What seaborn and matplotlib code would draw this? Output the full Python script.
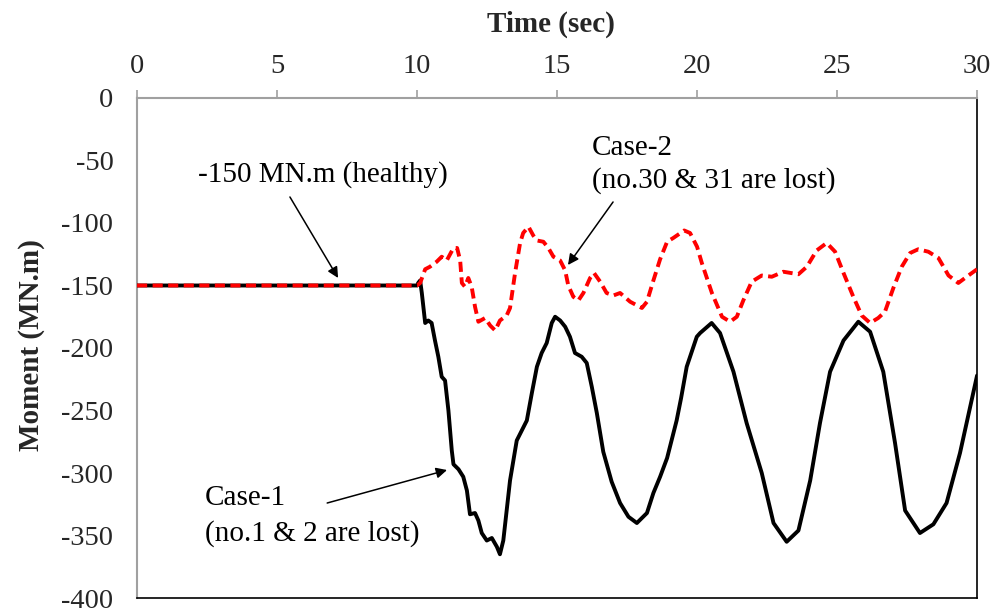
import matplotlib
matplotlib.use("Agg")
import matplotlib.pyplot as plt
import numpy as np
import pandas as pd
import seaborn as sns

# Case-1: time (sec) and moment (MN.m)
case1_t = [0.0, 10.0, 10.04, 10.11, 10.17, 10.29, 10.40, 10.52, 10.64, 10.76, 10.88, 11.0,
           11.12, 11.24, 11.30, 11.48, 11.65, 11.78, 11.89, 12.07, 12.19, 12.31, 12.49, 12.67,
           12.85, 12.96, 13.08, 13.32, 13.56, 13.74, 13.92, 14.10, 14.28, 14.45, 14.63, 14.81,
           14.93, 15.11, 15.29, 15.46, 15.64, 15.88, 16.06, 16.24, 16.42, 16.65, 16.95, 17.25,
           17.55, 17.85, 18.21, 18.44, 18.68, 18.93, 19.27, 19.43, 19.63, 19.75, 19.99, 20.11,
           20.52, 20.82, 21.30, 21.77, 22.31, 22.73, 23.20, 23.62, 24.04, 24.39, 24.75, 25.23,
           25.76, 26.18, 26.65, 27.07, 27.43, 27.96, 28.44, 28.91, 29.39, 30.0]
case1_m = [-150, -150, -148, -146, -156, -180, -178, -180, -194, -207, -223, -226,
           -250, -282, -293, -297, -303, -314, -333, -332, -338, -348, -354, -352,
           -359, -365, -354, -306, -274, -266, -258, -236, -215, -204, -196, -180,
           -175, -178, -183, -191, -204, -207, -212, -231, -252, -283, -307, -324,
           -335, -340, -332, -316, -303, -288, -258, -240, -215, -207, -191, -188,
           -180, -188, -219, -260, -300, -340, -355, -346, -306, -260, -219, -194,
           -179, -187, -219, -276, -330, -348, -341, -324, -284, -222]

# Case-2: time (sec) and moment (MN.m)
case2_t = [0.0, 10.0, 10.11, 10.29, 10.46, 10.70, 10.88, 11.06, 11.30, 11.43, 11.54, 11.60,
           11.71, 11.83, 11.95, 12.07, 12.19, 12.43, 12.61, 12.79, 12.96, 13.20, 13.32, 13.50,
           13.68, 13.79, 13.98, 14.15, 14.28, 14.51, 14.69, 14.87, 15.11, 15.29, 15.40, 15.58,
           15.76, 15.94, 16.18, 16.32, 16.54, 16.77, 17.01, 17.25, 17.61, 18.03, 18.21, 18.44,
           18.68, 18.93, 19.15, 19.54, 19.75, 20.0, 20.17, 20.53, 20.89, 21.18, 21.42, 21.65,
           21.95, 22.31, 22.67, 23.08, 23.62, 23.92, 24.27, 24.63, 24.93, 25.23, 25.58, 25.88,
           26.18, 26.47, 26.71, 27.01, 27.31, 27.61, 27.90, 28.26, 28.62, 28.98, 29.33, 29.63,
           30.0]
case2_m = [-150, -150, -148, -137, -135, -131, -127, -130, -120, -120, -130, -148,
           -151, -144, -151, -167, -179, -176, -182, -186, -178, -174, -168, -140,
           -116, -108, -103, -110, -114, -115, -120, -127, -130, -138, -150, -159,
           -162, -156, -144, -140, -147, -156, -158, -156, -163, -168, -163, -146,
           -129, -115, -112, -106, -108, -119, -132, -156, -175, -179, -175, -162,
           -147, -142, -143, -139, -141, -135, -122, -116, -123, -140, -159, -174,
           -180, -176, -171, -152, -135, -124, -121, -123, -128, -142, -148, -143,
           -137]

x_ticks = [0, 5, 10, 15, 20, 25, 30]
y_ticks = [0, -50, -100, -150, -200, -250, -300, -350, -400]

df1 = pd.DataFrame({"Time (sec)": case1_t, "Moment (MN.m)": case1_m})
df2 = pd.DataFrame({"Time (sec)": case2_t, "Moment (MN.m)": case2_m})

sns.set_style("white")
plt.rcParams["font.family"] = ["Liberation Serif", "DejaVu Serif"]

fig = plt.figure(figsize=(9.96, 6.15), dpi=100)
ax = fig.add_axes([0.1376, 0.0276, 0.8434, 0.8131])

sns.lineplot(data=df1, x="Time (sec)", y="Moment (MN.m)", ax=ax, color="black",
             linewidth=2.8, estimator=None, sort=False, zorder=3)
sns.lineplot(data=df2, x="Time (sec)", y="Moment (MN.m)", ax=ax, color="#ff0000",
             linewidth=2.8, estimator=None, sort=False, zorder=4)
ax.lines[-1].set_linestyle((0, (2.6, 1.4)))

ax.set_xlim(0, 30)
ax.set_ylim(-400, 0)
ax.set_xticks(x_ticks)
ax.set_yticks(y_ticks)
ax.set_yticklabels([str(v) for v in y_ticks])

ax.xaxis.set_ticks_position("top")
ax.xaxis.set_label_position("top")
ax.tick_params(axis="x", direction="out", length=6, width=1.2, color="#a0a0a0",
               labelsize=20.5, pad=8)
ax.tick_params(axis="y", direction="out", length=6, width=1.2, color="#a0a0a0",
               labelsize=20.5, pad=11)
ax.set_xlabel("Time (sec)", fontsize=21, fontweight="bold")
ax.set_ylabel("Moment (MN.m)", fontsize=21, fontweight="bold")
ax.xaxis.set_label_coords(0.493, 1.132)
ax.yaxis.set_label_coords(-0.1095, 0.506)

for side in ("left", "top"):
    ax.spines[side].set_color("#a0a0a0")
    ax.spines[side].set_linewidth(1.5)
for side in ("right", "bottom"):
    ax.spines[side].set_color("black")
    ax.spines[side].set_linewidth(1.2)
ax.grid(False)

# Annotation texts
txt = dict(fontsize=21, ha="left", va="baseline", color="black")
ax.text(2.18, -67.2, "-150 MN.m (healthy)", **txt)
ax.text(16.25, -45.6, "Case-2", **txt)
ax.text(16.25, -72.0, "(no.30 & 31 are lost)", **txt)
ax.text(2.43, -325.6, "Case-1", **txt)
ax.text(2.43, -354.4, "(no.1 & 2 are lost)", **txt)

# Pointer arrows
arrow = dict(arrowstyle="-|>", color="black", lw=1.1, mutation_scale=16,
             shrinkA=0, shrinkB=0)
ax.annotate("", xy=(7.18, -144.0), xytext=(5.46, -79.2), arrowprops=arrow)
ax.annotate("", xy=(15.39, -133.6), xytext=(17.0, -83.2), arrowprops=arrow)
ax.annotate("", xy=(11.07, -297.6), xytext=(6.79, -324.0), arrowprops=arrow)

fig.savefig("out.png", dpi=100)
